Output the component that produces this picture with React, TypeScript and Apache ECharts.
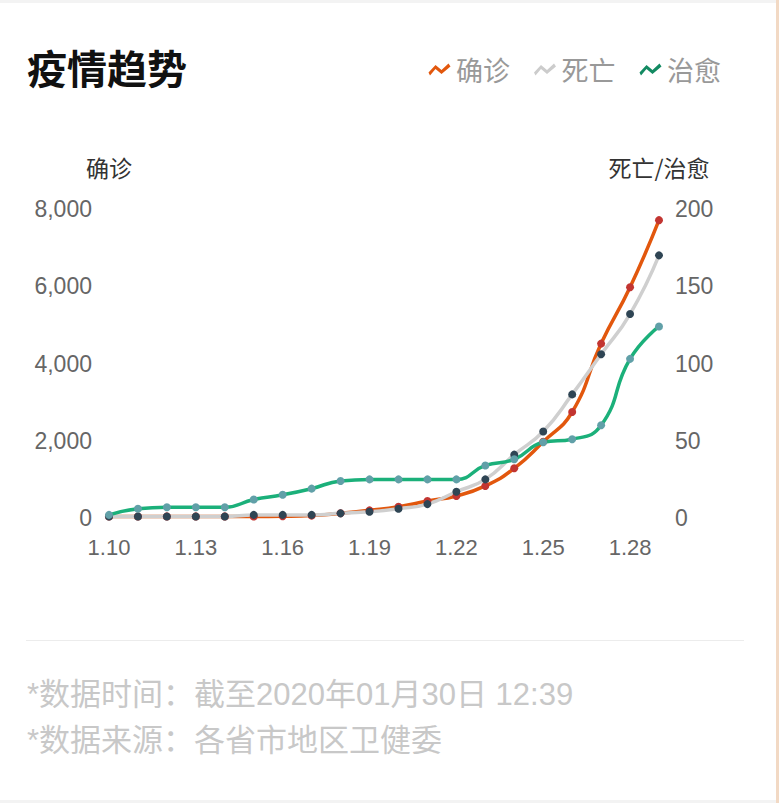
import React, { useEffect, useRef } from "react";
import * as echarts from "echarts";

const dates = ["1.10","1.11","1.12","1.13","1.14","1.15","1.16","1.17","1.18","1.19","1.20","1.21","1.22","1.23","1.24","1.25","1.26","1.27","1.28","1.29"];
const confirmed = [41,41,41,41,41,41,45,62,121,198,291,440,571,830,1287,1975,2744,4515,5974,7711];
const deaths = [1,1,1,1,1,2,2,2,3,4,6,9,17,25,41,56,80,106,132,170];
const cured = [2,6,7,7,7,12,15,19,24,25,25,25,25,34,38,49,51,60,103,124];
const seriesNames = ["确诊", "死亡", "治愈"];
const lineColors = ["#e2570d", "#cfcfcf", "#1bb07a"];
const dotColors = ["#c23531", "#2f4554", "#61a0a8"];
const legendColors = ["#e2570d", "#cccccc", "#138a62"];
const footerLines = ["*数据时间：截至2020年01月30日 12:39", "*数据来源：各省市地区卫健委"];

const FONT = "'Liberation Sans', 'Noto Sans CJK SC', sans-serif";
const CJK = "'Noto Sans CJK SC', sans-serif";
const ZIG = "path://M0,8.5L7,1L13,6L20,-0.5L22,2.5L13,10L7,5L1.5,11.5Z";

export default function App() {
  const ref = useRef<HTMLDivElement>(null);
  useEffect(() => {
    if (!ref.current) return;
    const chart = echarts.init(ref.current, null, { renderer: "svg" });
    const data = [confirmed, deaths, cured];
    chart.setOption({
      animation: false,
      backgroundColor: "#fff",
      title: {
        text: "疫情趋势",
        left: 27,
        top: 47,
        padding: 0,
        textStyle: { fontSize: 40, fontWeight: "bold", color: "#111", fontFamily: CJK },
      },
      legend: {
        right: 58,
        top: 56,
        padding: 0,
        itemWidth: 23,
        itemHeight: 12,
        itemGap: 24,
        icon: ZIG,
        textStyle: { fontSize: 27, color: "#999", fontFamily: CJK },
        data: seriesNames.map((n, i) => ({ name: n, icon: ZIG, itemStyle: { color: legendColors[i] }, lineStyle: { opacity: 0 } })),
      },
      grid: { left: 109, right: 120, top: 209, bottom: 285, containLabel: false },
      xAxis: {
        type: "category",
        boundaryGap: false,
        data: dates,
        axisLine: { show: false },
        axisTick: { show: false },
        splitLine: { show: false },
        axisLabel: { interval: 2, fontSize: 22, color: "#666", margin: 18, fontFamily: FONT },
      },
      yAxis: [
        {
          type: "value",
          min: 0,
          max: 8000,
          interval: 2000,
          name: "确诊",
          nameLocation: "end",
          nameGap: 31,
          nameTextStyle: { fontSize: 23, color: "#333", fontFamily: CJK, align: "center" },
          axisLine: { show: false },
          axisTick: { show: false },
          splitLine: { show: false },
          axisLabel: { fontSize: 23, color: "#666", margin: 17, fontFamily: FONT },
        },
        {
          type: "value",
          min: 0,
          max: 200,
          interval: 50,
          name: "死亡/治愈",
          nameLocation: "end",
          nameGap: 31,
          nameTextStyle: { fontSize: 23, color: "#333", fontFamily: CJK, align: "center" },
          axisLine: { show: false },
          axisTick: { show: false },
          splitLine: { show: false },
          axisLabel: { fontSize: 23, color: "#666", margin: 16, fontFamily: FONT },
        },
      ],
      series: seriesNames.map((n, i) => ({
        name: n,
        type: "line",
        yAxisIndex: i === 0 ? 0 : 1,
        data: data[i],
        smooth: true,
        symbol: "circle",
        symbolSize: 8,
        showAllSymbol: true,
        lineStyle: { color: lineColors[i], width: 3.5 },
        itemStyle: { color: dotColors[i] },
      })),
      graphic: [
        { type: "rect", shape: { x: 0, y: 0, width: 779, height: 3 }, style: { fill: "#f3f3f3" } },
        { type: "rect", shape: { x: 776, y: 0, width: 3, height: 803 }, style: { fill: "#f2d9c4" } },
        { type: "rect", shape: { x: 0, y: 800, width: 776, height: 3 }, style: { fill: "#f3f3f3" } },
        { type: "line", shape: { x1: 26, y1: 640.5, x2: 744, y2: 640.5 }, style: { stroke: "#ececec", lineWidth: 1 } },
        ...footerLines.map((t, i) => ({
          type: "text",
          x: 27,
          y: 694 + i * 46,
          style: { text: t, fontSize: 31, fill: "#c8c8c8", fontFamily: FONT, verticalAlign: "middle", align: "left" },
        })),
      ],
    });
    return () => chart.dispose();
  }, []);
  return <div ref={ref} style={{ position: "fixed", left: 0, top: 0, width: 779, height: 803 }} />;
}
